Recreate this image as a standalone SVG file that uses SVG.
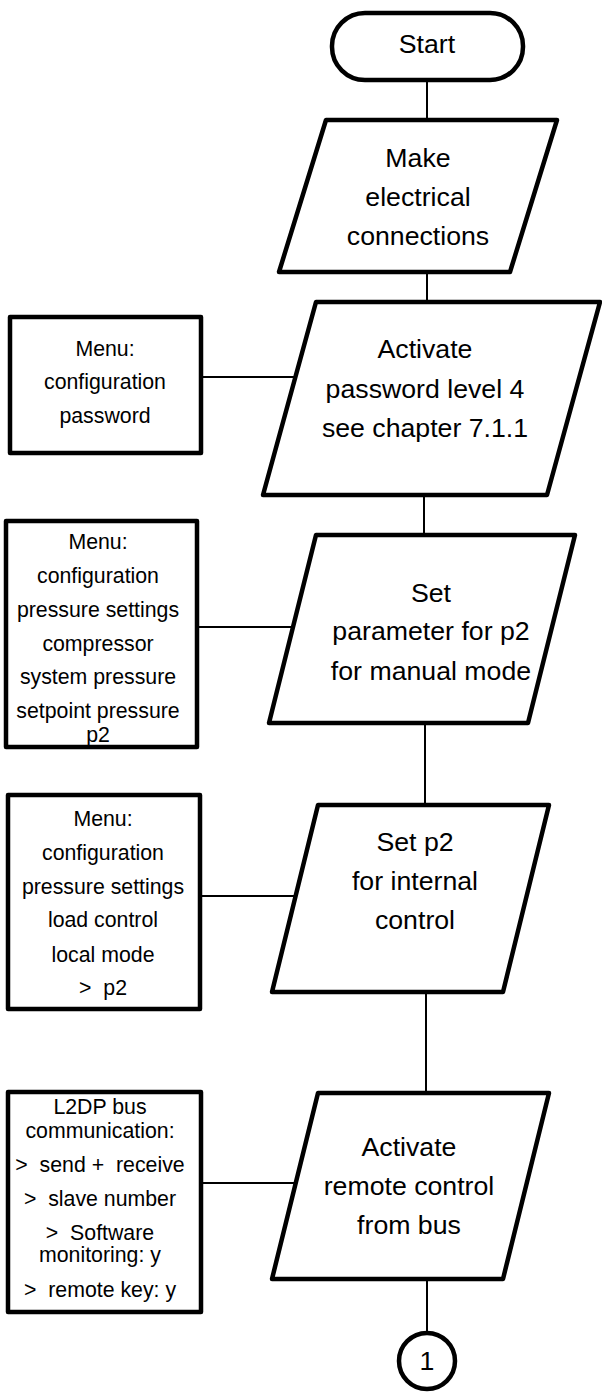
<svg xmlns="http://www.w3.org/2000/svg" width="602" height="1392" viewBox="0 0 602 1392">
<style>
.shape{fill:#fff;stroke:#000;stroke-width:4.5;stroke-linejoin:round}
.box{fill:#fff;stroke:#000;stroke-width:4.5;stroke-linejoin:round}
.conn{stroke:#000;stroke-width:2;fill:none}
.big{font-family:"Liberation Sans",Arial,sans-serif;font-size:26.7px;fill:#000;text-anchor:middle}
.small{font-family:"Liberation Sans",Arial,sans-serif;font-size:21.3px;fill:#000;text-anchor:middle;white-space:pre}
</style>
<rect width="602" height="1392" fill="#fff"/>
<g id="connectors">
<line class="conn" x1="427" y1="80" x2="427" y2="120"/>
<line class="conn" x1="427" y1="272" x2="427" y2="302"/>
<line class="conn" x1="424" y1="495" x2="424" y2="535"/>
<line class="conn" x1="425" y1="723" x2="425" y2="805"/>
<line class="conn" x1="426" y1="992" x2="426" y2="1093"/>
<line class="conn" x1="427" y1="1279" x2="427" y2="1333"/>
<line class="conn" x1="201" y1="377" x2="295" y2="377"/>
<line class="conn" x1="197" y1="627" x2="293" y2="627"/>
<line class="conn" x1="200" y1="896" x2="296" y2="896"/>
<line class="conn" x1="201" y1="1183" x2="296" y2="1183"/>
</g>
<g id="start">
<rect class="shape" x="332" y="13" width="191" height="67" rx="33" ry="33"/>
<text class="big" x="427" y="53">Start</text>
</g>
<g id="p1">
<polygon class="shape" points="326,120 557,120 510,272 279,272"/>
<text class="big" x="418" y="167">Make</text>
<text class="big" x="418" y="206">electrical</text>
<text class="big" x="418" y="245">connections</text>
</g>
<g id="p2">
<polygon class="shape" points="316,302 600,302 547,495 263,495"/>
<text class="big" x="425" y="358">Activate</text>
<text class="big" x="425" y="398">password level 4</text>
<text class="big" x="425" y="437">see chapter 7.1.1</text>
</g>
<g id="p3">
<polygon class="shape" points="316,535 575,535 528,723 269,723"/>
<text class="big" x="431" y="602">Set</text>
<text class="big" x="431" y="640">parameter for p2</text>
<text class="big" x="431" y="680">for manual mode</text>
</g>
<g id="p4">
<polygon class="shape" points="318,805 549,805 503,992 272,992"/>
<text class="big" x="415" y="851">Set p2</text>
<text class="big" x="415" y="890">for internal</text>
<text class="big" x="415" y="929">control</text>
</g>
<g id="p5">
<polygon class="shape" points="318,1093 549,1093 503,1279 272,1279"/>
<text class="big" x="409" y="1156">Activate</text>
<text class="big" x="409" y="1195">remote control</text>
<text class="big" x="409" y="1234">from bus</text>
</g>
<g id="connector1">
<circle class="shape" cx="427" cy="1361" r="28"/>
<text class="big" x="427" y="1370">1</text>
</g>
<g id="box1">
<rect class="box" x="10" y="317" width="191" height="136"/>
<text class="small" x="105" y="356">Menu:</text>
<text class="small" x="105" y="389">configuration</text>
<text class="small" x="105" y="423">password</text>
</g>
<g id="box2">
<rect class="box" x="6" y="521" width="191" height="226"/>
<text class="small" x="98" y="549">Menu:</text>
<text class="small" x="98" y="583">configuration</text>
<text class="small" x="98" y="617">pressure settings</text>
<text class="small" x="98" y="651">compressor</text>
<text class="small" x="98" y="684">system pressure</text>
<text class="small" x="98" y="718">setpoint pressure</text>
<text class="small" x="98" y="742">p2</text>
</g>
<g id="box3">
<rect class="box" x="8" y="795" width="192" height="214"/>
<text class="small" x="103" y="826">Menu:</text>
<text class="small" x="103" y="860">configuration</text>
<text class="small" x="103" y="894">pressure settings</text>
<text class="small" x="103" y="927">load control</text>
<text class="small" x="103" y="962">local mode</text>
<text class="small" x="103" y="995">&gt;  p2</text>
</g>
<g id="box4">
<rect class="box" x="8" y="1092" width="193" height="220"/>
<text class="small" x="100" y="1114">L2DP bus</text>
<text class="small" x="100" y="1138">communication:</text>
<text class="small" x="100" y="1172">&gt;  send +  receive</text>
<text class="small" x="100" y="1206">&gt;  slave number</text>
<text class="small" x="100" y="1240">&gt;  Software</text>
<text class="small" x="100" y="1262">monitoring: y</text>
<text class="small" x="100" y="1297">&gt;  remote key: y</text>
</g>
</svg>
